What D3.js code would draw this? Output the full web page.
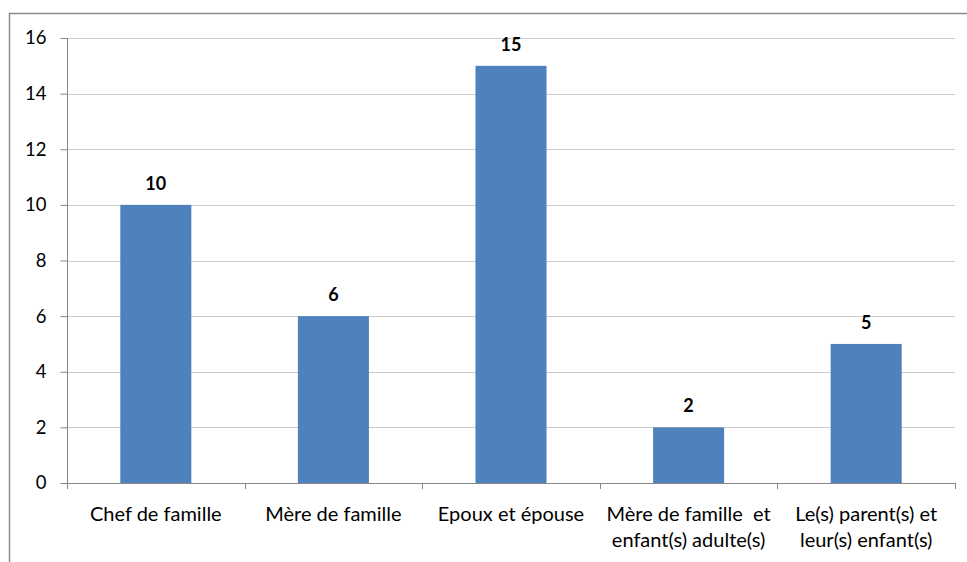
<!DOCTYPE html>
<html>
<head>
<meta charset="utf-8">
<script src="https://cdn.jsdelivr.net/npm/d3@7"></script>
<style>
  html, body { margin: 0; padding: 0; background: #fff; }
  svg { display: block; }
  text { font-family: Lato, "Open Sans", sans-serif; fill: #000; }
</style>
</head>
<body>
<svg id="chart" width="967" height="562"></svg>
<script>
// Household composition categories (two-line labels separated by \n)
const categories = [
  "Chef de famille",
  "Mère de famille",
  "Epoux et épouse",
  "Mère de famille  et\nenfant(s) adulte(s)",
  "Le(s) parent(s) et\nleur(s) enfant(s)"
];
const values = [10, 6, 15, 2, 5];
const yTicks = [0, 2, 4, 6, 8, 10, 12, 14, 16];

const svg = d3.select("#chart");
const W = 967, H = 562;
const m = { left: 67, right: 12, top: 38, bottom: 79 };

// outer frame (continues past the right and bottom edges)
svg.append("rect")
  .attr("x", 9.5).attr("y", 13.5)
  .attr("width", W + 20).attr("height", H + 20)
  .attr("fill", "#fff").attr("stroke", "#8c8c8c").attr("stroke-width", 1.5);

const x = d3.scaleBand()
  .domain(categories)
  .range([m.left, W - m.right])
  .paddingInner(0.6)
  .paddingOuter(0.3);

const y = d3.scaleLinear().domain([0, 16]).range([H - m.bottom, m.top]);

// horizontal gridlines
svg.append("g").selectAll("line").data(yTicks.filter(d => d > 0)).join("line")
  .attr("x1", m.left).attr("x2", W - m.right)
  .attr("y1", d => Math.round(y(d)) + 0.5).attr("y2", d => Math.round(y(d)) + 0.5)
  .attr("stroke", "#cccccc").attr("stroke-width", 1);

// bars
svg.append("g").selectAll("rect").data(values).join("rect")
  .attr("x", (d, i) => x(categories[i]))
  .attr("width", x.bandwidth())
  .attr("y", d => y(d))
  .attr("height", d => y(0) - y(d))
  .attr("fill", "#4f81bd");

// value labels
svg.append("g").selectAll("text").data(values).join("text")
  .attr("x", (d, i) => x(categories[i]) + x.bandwidth() / 2)
  .attr("y", d => y(d) - 15)
  .attr("text-anchor", "middle")
  .attr("font-size", 18).attr("font-weight", "bold")
  .text(d => d);

// y axis
const yAxis = svg.append("g")
  .attr("transform", `translate(${m.left + 0.5},0)`)
  .call(d3.axisLeft(y).tickValues(yTicks).tickSize(7).tickPadding(14));
yAxis.selectAll("line, path").attr("stroke", "#868686");
yAxis.select(".domain").attr("d", `M0,${y(16)}V${y(0)}`);
yAxis.selectAll("text").attr("font-size", 18.5).attr("font-family", "Lato, sans-serif").attr("fill", "#000");

// x axis: baseline plus boundary ticks between categories
const xg = svg.append("g");
xg.append("line")
  .attr("x1", m.left).attr("x2", W - m.right)
  .attr("y1", Math.round(y(0)) + 0.5).attr("y2", Math.round(y(0)) + 0.5)
  .attr("stroke", "#868686");
const bounds = d3.range(categories.length + 1).map(i => m.left + i * (W - m.right - m.left) / categories.length);
xg.selectAll("line.tk").data(bounds).join("line").attr("class", "tk")
  .attr("x1", d => Math.round(d) + 0.5).attr("x2", d => Math.round(d) + 0.5)
  .attr("y1", y(0)).attr("y2", y(0) + 6)
  .attr("stroke", "#868686");

// category labels
categories.forEach((c, i) => {
  const lines = c.split("\n");
  const cx = x(c) + x.bandwidth() / 2;
  const t = xg.append("text")
    .attr("x", cx).attr("text-anchor", "middle").attr("font-size", 20)
    .attr("xml:space", "preserve");
  lines.forEach((ln, j) => {
    t.append("tspan").attr("x", cx).attr("y", 521 + j * 26).text(ln);
  });
});
</script>
</body>
</html>
